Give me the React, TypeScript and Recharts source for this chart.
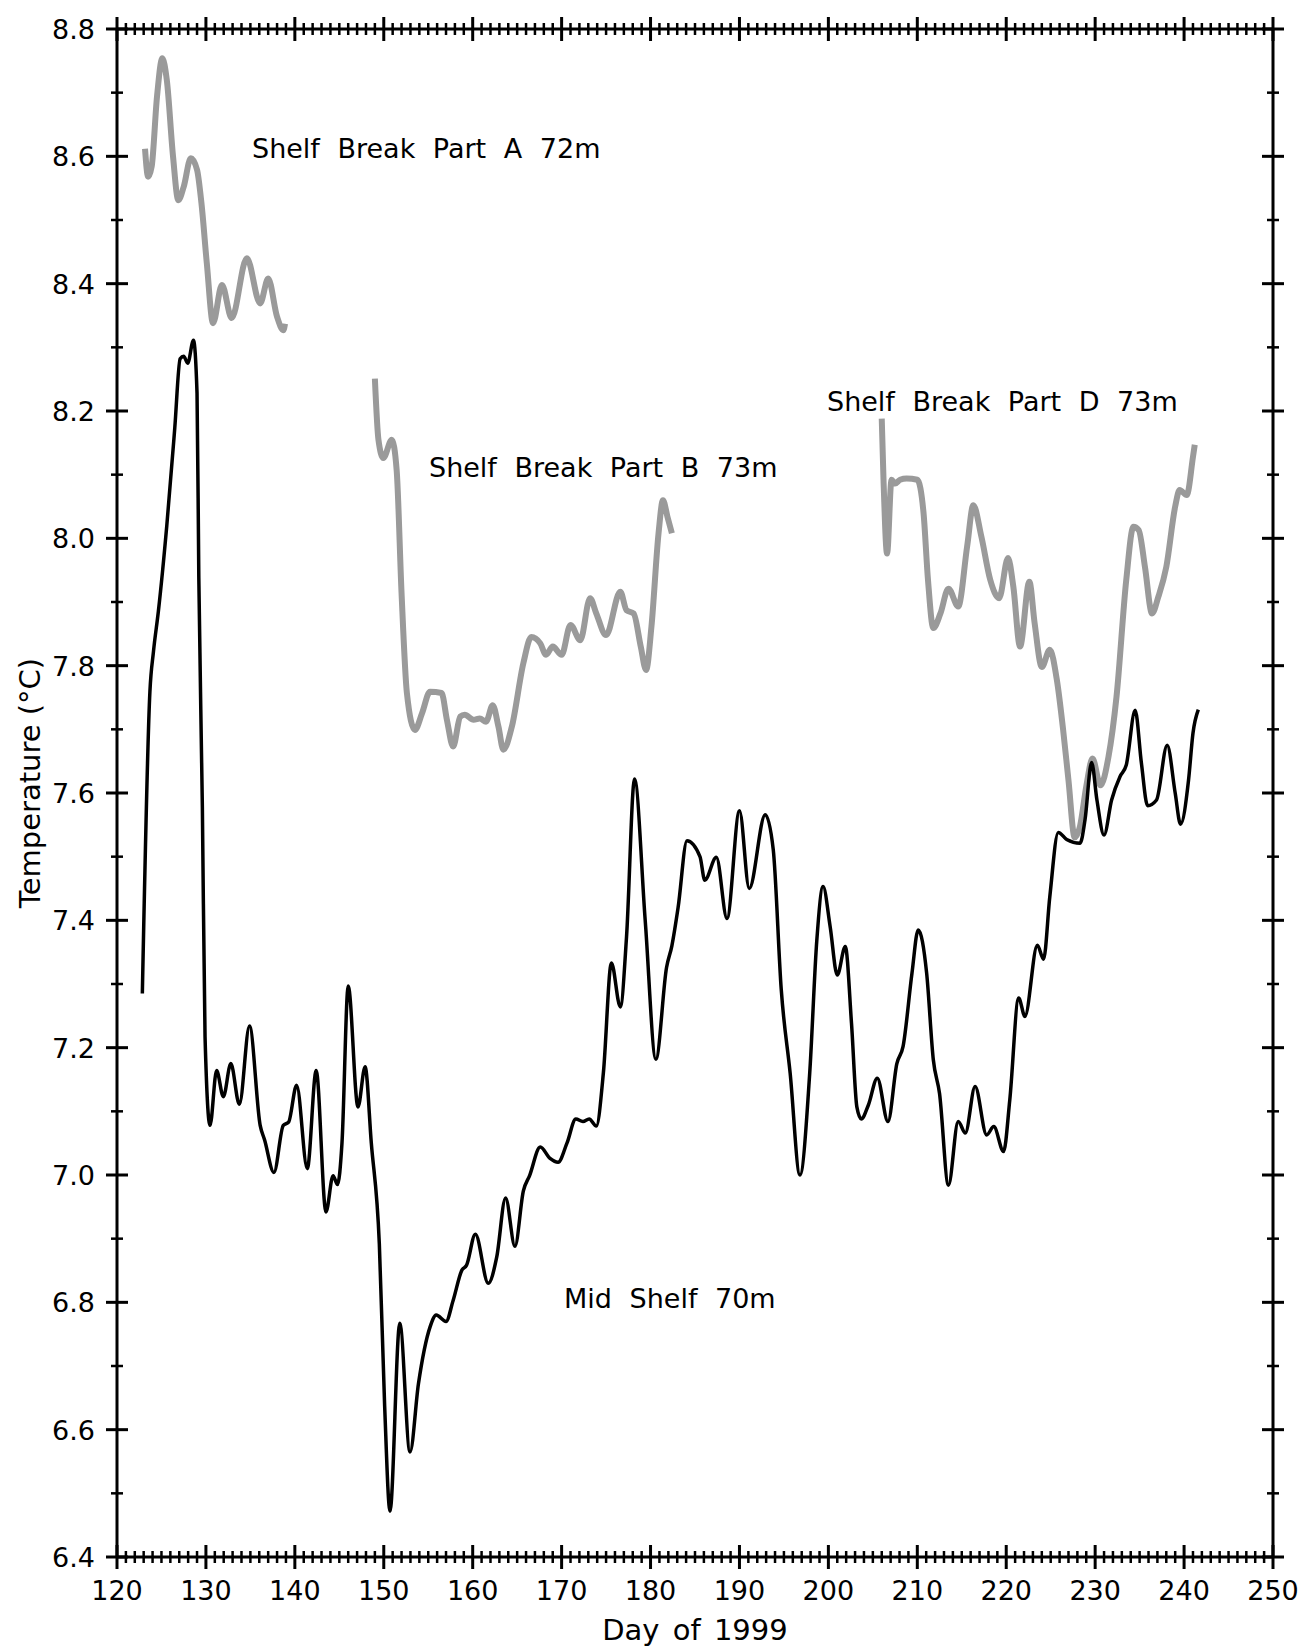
import { LineChart, Line, XAxis, YAxis } from "recharts";

// Mid Shelf 70m (black)
const midDay = [
  122.85, 123.7, 124.1, 124.65, 125.6, 126.5, 127.1, 127.5, 127.95, 128.6, 129.0, 129.2, 129.6, 129.9,
  130.46, 131.2, 131.96, 132.8, 133.76, 134.9, 136.1, 136.6, 137.65, 138.7, 139.3, 140.2, 141.4, 142.4,
  143.5, 144.3, 144.8, 145.3, 146.0, 147.1, 147.9, 148.6, 149.5, 150.1, 150.7, 151.8, 152.95, 153.9,
  155.2, 155.9, 157.0, 157.8, 158.8, 159.3, 160.3, 161.75, 162.7, 163.7, 164.75, 165.7, 166.4, 167.6,
  168.7, 169.6, 170.6, 171.6, 172.4, 173.1, 173.9, 174.7, 175.6, 176.6, 177.3, 178.2, 179.4, 180.6,
  181.8, 182.4, 183.1, 184.1, 185.56, 186.1, 187.4, 188.6, 190.0, 191.1, 192.9, 193.8, 194.7, 195.7,
  196.8, 197.9, 198.7, 199.4, 200.2, 201.0, 201.9, 202.6, 203.2, 203.7, 204.5, 205.5, 206.7, 207.7,
  208.4, 209.4, 210.1, 211.05, 211.8, 212.5, 213.5, 214.6, 215.4, 216.5, 217.8, 218.6, 219.7, 220.4,
  221.4, 222.1, 223.5, 224.2, 224.9, 225.85, 226.8, 228.3, 228.86, 229.6, 230.2, 231.0, 231.85, 232.8,
  233.5, 234.5, 235.2, 235.9, 236.9, 238.1, 239.0, 239.6, 240.5, 241.0, 241.6,
];
const midTemp = [
  7.285, 7.759, 7.822, 7.885, 8.02, 8.174, 8.282, 8.286, 8.275, 8.311, 8.228, 7.939, 7.578, 7.218,
  7.078, 7.164, 7.123, 7.175, 7.111, 7.234, 7.078, 7.055, 7.004, 7.078, 7.083, 7.141, 7.01, 7.164,
  6.942, 6.999, 6.985, 7.05, 7.297, 7.107, 7.17, 7.05, 6.892, 6.637, 6.472, 6.767, 6.565, 6.672,
  6.761, 6.78, 6.77, 6.803, 6.851, 6.858, 6.907, 6.83, 6.871, 6.964, 6.888, 6.975, 6.999, 7.044,
  7.026, 7.02, 7.05, 7.088, 7.084, 7.088, 7.077, 7.161, 7.333, 7.264, 7.374, 7.622, 7.4, 7.182,
  7.326, 7.36, 7.42, 7.525, 7.5, 7.463, 7.499, 7.403, 7.572, 7.45, 7.566, 7.511, 7.291, 7.16,
  7.0, 7.16, 7.369, 7.453, 7.39, 7.314, 7.359, 7.238, 7.107, 7.088, 7.11, 7.152, 7.084, 7.175,
  7.202, 7.317, 7.385, 7.317, 7.181, 7.128, 6.984, 7.084, 7.066, 7.139, 7.063, 7.076, 7.037, 7.118,
  7.278, 7.249, 7.361, 7.339, 7.437, 7.538, 7.527, 7.521, 7.558, 7.648, 7.589, 7.534, 7.589, 7.626,
  7.644, 7.73, 7.647, 7.58, 7.589, 7.675, 7.6, 7.551, 7.62, 7.694, 7.731,
];

// Shelf Break Part A 72m (grey)
const partADay = [
  123.15, 123.5, 123.9, 124.5, 125.1, 125.6, 126.3, 126.9, 127.5, 128.3, 129.0, 129.5, 130.1, 130.8,
  131.8, 132.9, 134.6, 136.1, 137.0, 138.0, 138.7, 138.9,
];
const partATemp = [
  8.612, 8.568, 8.584, 8.694, 8.754, 8.72, 8.6, 8.531, 8.552, 8.597, 8.579, 8.526, 8.432, 8.338,
  8.398, 8.346, 8.44, 8.369, 8.408, 8.348, 8.327, 8.337,
];

// Shelf Break Part B 73m (grey)
const partBDay = [
  149.0, 149.4, 149.95, 150.9, 151.45, 152.0, 152.6, 153.5, 154.3, 155.2, 156.5, 157.1, 157.8, 158.6,
  159.1, 160.1, 160.8, 161.5, 162.25, 162.9, 163.45, 164.4, 165.7, 166.6, 167.6, 168.25, 169.0, 170.0,
  171.0, 172.1, 173.2, 173.9, 175.0, 176.6, 177.3, 178.1, 178.9, 179.5, 180.1, 180.9, 181.4, 181.9, 182.4,
];
const partBTemp = [
  8.251, 8.155, 8.126, 8.155, 8.107, 7.914, 7.757, 7.699, 7.725, 7.759, 7.757, 7.715, 7.673, 7.72,
  7.723, 7.715, 7.717, 7.712, 7.738, 7.704, 7.668, 7.704, 7.804, 7.845, 7.835, 7.817, 7.83, 7.817,
  7.864, 7.84, 7.906, 7.882, 7.848, 7.916, 7.887, 7.882, 7.83, 7.793, 7.861, 8.008, 8.06, 8.034, 8.008,
];

// Shelf Break Part D 73m (grey)
const partDDay = [
  206.0, 206.2, 206.6, 207.1, 207.5, 208.06, 208.8, 210.0, 210.7, 211.2, 211.8, 212.6, 213.5, 214.6,
  215.6, 216.3, 217.2, 218.2, 219.2, 220.2, 220.8, 221.55, 222.6, 223.2, 224.0, 224.9, 225.7, 226.4,
  227.0, 227.7, 228.3, 229.0, 229.7, 230.6, 231.5, 232.4, 233.5, 234.3, 234.9, 235.6, 236.4, 237.1,
  238.0, 239.0, 239.5, 240.3, 241.0, 241.2,
];
const partDTemp = [
  8.188, 8.092, 7.976, 8.092, 8.086, 8.092, 8.094, 8.092, 8.04, 7.935, 7.859, 7.882, 7.921, 7.893,
  7.987, 8.052, 8.003, 7.935, 7.906, 7.969, 7.924, 7.83, 7.932, 7.866, 7.798, 7.825, 7.777, 7.699,
  7.62, 7.53, 7.548, 7.61, 7.654, 7.612, 7.657, 7.751, 7.935, 8.018, 8.013, 7.955, 7.882, 7.908,
  7.955, 8.05, 8.076, 8.068, 8.128, 8.147,
];

const dayLabels = [120, 130, 140, 150, 160, 170, 180, 190, 200, 210, 220, 230, 240, 250];
const tempLabels = [6.4, 6.6, 6.8, 7.0, 7.2, 7.4, 7.6, 7.8, 8.0, 8.2, 8.4, 8.6, 8.8];

const dayTicks = Array.from({ length: 131 }, (_, i) => 120 + i);
const tempTicks = Array.from({ length: 25 }, (_, i) => Math.round((6.4 + i * 0.1) * 10) / 10);

const rows = (days: number[], temps: number[]) => days.map((d, i) => ({ day: d, temp: temps[i] }));

const FONT = "DejaVu Sans, sans-serif";
const INK = "#000";
const GREY = "#9a9a9a";

function DayTick(props: any) {
  const { x, y, payload, side } = props;
  const v = payload.value;
  const major = dayLabels.includes(v);
  const h = major ? 12 : 6;
  return (
    <g>
      <line x1={x} x2={x} y1={y - h} y2={y + h} stroke={INK} strokeWidth={major ? 3 : 2.5} />
      {side === "bottom" && major && (
        <text x={x} y={y + 43} textAnchor="middle" fontSize={27} fontFamily={FONT} fill={INK}>
          {v}
        </text>
      )}
    </g>
  );
}

function TempTick(props: any) {
  const { x, y, payload, side } = props;
  const v = payload.value;
  const major = tempLabels.some((t) => Math.abs(t - v) < 1e-6);
  const h = major ? 11 : 6;
  return (
    <g>
      <line x1={x - h} x2={x + h} y1={y} y2={y} stroke={INK} strokeWidth={major ? 3 : 2.5} />
      {side === "left" && major && (
        <text x={x - 22} y={y + 10} textAnchor="end" fontSize={27} fontFamily={FONT} fill={INK}>
          {v.toFixed(1)}
        </text>
      )}
    </g>
  );
}

export default function App() {
  const axisLine = { stroke: INK, strokeWidth: 3 };
  return (
    <div style={{ position: "absolute", left: 0, top: 0, width: 1308, height: 1647, background: "#fff" }}>
      <LineChart width={1308} height={1647} margin={{ top: 28, right: 34, bottom: 89, left: 116 }}>
        <XAxis xAxisId="bottom" dataKey="day" type="number" domain={[120, 250]} ticks={dayTicks}
               interval={0} height={1} tickSize={0} tickMargin={0} tickLine={false} axisLine={axisLine}
               tick={(p: any) => <DayTick {...p} side="bottom" />} />
        <XAxis xAxisId="top" orientation="top" dataKey="day" type="number" domain={[120, 250]} ticks={dayTicks}
               interval={0} height={1} tickSize={0} tickMargin={0} tickLine={false} axisLine={axisLine}
               tick={(p: any) => <DayTick {...p} side="top" />} />
        <YAxis yAxisId="left" type="number" domain={[6.4, 8.8]} ticks={tempTicks} interval={0}
               width={1} tickSize={0} tickMargin={0} tickLine={false} axisLine={axisLine}
               tick={(p: any) => <TempTick {...p} side="left" />} />
        <YAxis yAxisId="right" orientation="right" type="number" domain={[6.4, 8.8]} ticks={tempTicks} interval={0}
               width={1} tickSize={0} tickMargin={0} tickLine={false} axisLine={axisLine}
               tick={(p: any) => <TempTick {...p} side="right" />} />
        <Line data={rows(partADay, partATemp)} dataKey="temp" xAxisId="top" yAxisId="right" type="monotone"
              stroke={GREY} strokeWidth={6} dot={false} isAnimationActive={false} />
        <Line data={rows(partBDay, partBTemp)} dataKey="temp" xAxisId="bottom" yAxisId="left" type="monotone"
              stroke={GREY} strokeWidth={6} dot={false} isAnimationActive={false} />
        <Line data={rows(partDDay, partDTemp)} dataKey="temp" xAxisId="bottom" yAxisId="left" type="monotone"
              stroke={GREY} strokeWidth={6} dot={false} isAnimationActive={false} />
        <Line data={rows(midDay, midTemp)} dataKey="temp" xAxisId="bottom" yAxisId="left" type="monotone"
              stroke={INK} strokeWidth={3.5} dot={false} isAnimationActive={false} />
      </LineChart>
      <svg width={1308} height={1647} style={{ position: "absolute", left: 0, top: 0, pointerEvents: "none" }}
           fontFamily={FONT} fill={INK}>
        <text x={252} y={158} fontSize={27} style={{ wordSpacing: 9 }}>Shelf Break Part A 72m</text>
        <text x={429} y={477} fontSize={27} style={{ wordSpacing: 9 }}>Shelf Break Part B 73m</text>
        <text x={827} y={411} fontSize={27} style={{ wordSpacing: 9 }}>Shelf Break Part D 73m</text>
        <text x={564} y={1308} fontSize={27} style={{ wordSpacing: 9 }}>Mid Shelf 70m</text>
        <text x={695} y={1640} fontSize={29} textAnchor="middle" style={{ wordSpacing: 4 }}>Day of 1999</text>
        <text x={40} y={783} fontSize={29} textAnchor="middle" transform="rotate(-90 40 783)">
          Temperature (°C)
        </text>
      </svg>
    </div>
  );
}
